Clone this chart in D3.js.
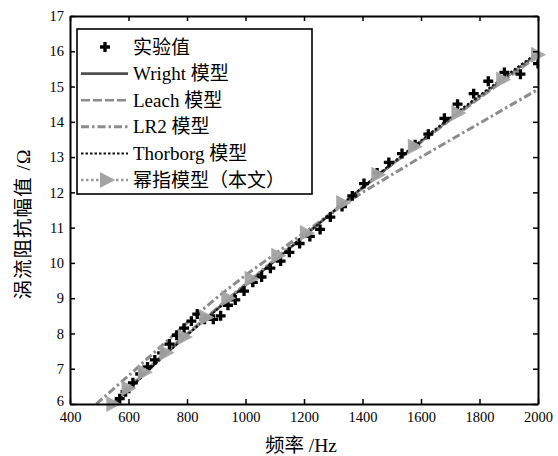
<!DOCTYPE html>
<html lang="zh">
    <head>
        <meta charset="utf-8">
        <title>涡流阻抗幅值</title>
        <script src="https://d3js.org/d3.v7.min.js"></script>
        <style type="text/css">
        body { margin: 0; background: #fff; }
        .tick text, .label, .legtext {
            font-family: "Liberation Serif", "Times New Roman", "Noto Sans CJK SC", serif;
            fill: #000;
        }
        .tick text { font-size: 14.5px; }
        .label { font-size: 19.5px; }
        .legtext { font-size: 19px; }
        </style>
    </head>
    <body>
    <div id="vis"></div>
    <script type="text/javascript">

        // experimental points
        const expFreq = [570, 590, 615, 640, 665, 690, 715, 740, 765, 790, 815, 835, 860, 890, 915, 940, 965, 995,
                         1025, 1055, 1085, 1120, 1150, 1185, 1220, 1255, 1290, 1330, 1365, 1405, 1450, 1490, 1535,
                         1580, 1625, 1680, 1725, 1780, 1830, 1885, 1940, 2000];
        const expVal  = [6.15, 6.35, 6.6, 6.85, 7.05, 7.25, 7.45, 7.7, 7.95, 8.15, 8.35, 8.55, 8.4, 8.4, 8.5, 8.8, 8.95, 9.2,
                         9.45, 9.6, 9.85, 10.05, 10.3, 10.55, 10.75, 10.95, 11.3, 11.6, 11.9, 12.25, 12.55, 12.85, 13.1,
                         13.35, 13.65, 14.1, 14.5, 14.8, 15.15, 15.4, 15.35, 15.65];

        // model curves
        const modelFreq = [550, 600, 700, 800, 900, 1000, 1100, 1200, 1300, 1400, 1500, 1600, 1700, 1800, 1900, 2000];
        const wrightVal   = [6.0, 6.42, 7.22, 7.96, 8.67, 9.37, 10.06, 10.76, 11.45, 12.13, 12.79, 13.44, 14.08, 14.71, 15.32, 15.93];
        const leachVal    = [6.04, 6.47, 7.27, 8.0, 8.7, 9.4, 10.08, 10.77, 11.45, 12.12, 12.78, 13.42, 14.05, 14.67, 15.27, 15.86];
        const thorborgVal = [5.98, 6.4, 7.2, 7.95, 8.66, 9.36, 10.06, 10.76, 11.46, 12.15, 12.82, 13.47, 14.12, 14.75, 15.37, 15.97];

        const lr2Freq = [490, 600, 700, 800, 900, 1000, 1100, 1200, 1300, 1400, 1500, 1600, 1700, 1800, 1900, 2000];
        const lr2Val  = [6.0, 6.8, 7.55, 8.3, 9.0, 9.65, 10.25, 10.85, 11.45, 12.0, 12.5, 13.0, 13.48, 13.96, 14.44, 14.92];

        const powFreq = [548, 600, 656, 730, 793, 867, 941, 1021, 1112, 1210, 1334, 1454, 1579, 1728, 1881, 2000];
        const powVal  = [6.0, 6.45, 6.9, 7.45, 7.9, 8.45, 9.0, 9.55, 10.2, 10.85, 11.7, 12.5, 13.3, 14.25, 15.2, 15.9];

        const xTicks = [400, 600, 800, 1000, 1200, 1400, 1600, 1800, 2000];
        const yTicks = [6, 7, 8, 9, 10, 11, 12, 13, 14, 15, 16, 17];

        const legendNames = ["实验值", "Wright 模型", "Leach 模型", "LR2 模型", "Thorborg 模型", "幂指模型（本文）"];

        const width = 558, height = 456;
        const pLeft = 70, pRight = 538, pTop = 16, pBottom = 404;

        const xScale = d3.scaleLinear().domain([400, 2000]).range([pLeft, pRight]);
        const yScale = d3.scaleLinear().domain([6, 17]).range([pBottom, pTop]);

        const svg = d3.select("#vis")
                      .append("svg")
                      .attr("width", width)
                      .attr("height", height);

        svg.append("clipPath").attr("id", "clip")
           .append("rect")
           .attr("x", pLeft).attr("y", pTop)
           .attr("width", pRight - pLeft).attr("height", pBottom - pTop);

        const plot = svg.append("g").attr("clip-path", "url(#clip)");
        const line = d3.line().x(d => xScale(d[0])).y(d => yScale(d[1]));

        //styles for the model curves
        const styles = {
            wright:   {stroke: "#505050", width: 2.6, dash: null},
            leach:    {stroke: "#8c8c8c", width: 2.6, dash: "9,3"},
            lr2:      {stroke: "#8c8c8c", width: 3, dash: "8,3,2.5,3"},
            thorborg: {stroke: "#111", width: 2, dash: "2.5,2"},
            pow:      {stroke: "#9a9a9a", width: 2.6, dash: "2.5,2.5"}
        };

        function drawCurve(fs, vs, st) {
            plot.append("path")
                .datum(d3.zip(fs, vs))
                .attr("fill", "none")
                .attr("stroke", st.stroke)
                .attr("stroke-width", st.width)
                .attr("stroke-dasharray", st.dash)
                .attr("d", line);
        }

        drawCurve(lr2Freq, lr2Val, styles.lr2);
        drawCurve(modelFreq, leachVal, styles.leach);
        drawCurve(modelFreq, wrightVal, styles.wright);
        drawCurve(powFreq, powVal, styles.pow);
        drawCurve(modelFreq, thorborgVal, styles.thorborg);

        const plus = d3.symbol().type(d3.symbolCross).size(55);
        const tri = "M-7,-8L8,0L-7,8Z";

        //experimental markers
        plot.selectAll(".exp")
            .data(d3.zip(expFreq, expVal))
            .enter()
            .append("path")
            .attr("class", "exp")
            .attr("d", plus)
            .attr("fill", "#000")
            .attr("transform", d => "translate(" + xScale(d[0]) + "," + yScale(d[1]) + ")");

        //triangles of the power model
        svg.selectAll(".tri")
           .data(d3.zip(powFreq, powVal))
           .enter()
           .append("path")
           .attr("class", "tri")
           .attr("d", tri)
           .attr("fill", "#a3a3a3")
           .attr("opacity", 0.95)
           .attr("transform", d => "translate(" + xScale(d[0]) + "," + yScale(d[1]) + ")");

        //axes, ticks pointing inwards
        svg.append("g")
           .attr("transform", "translate(0," + pBottom + ")")
           .call(d3.axisBottom(xScale).tickValues(xTicks).tickFormat(d3.format("d"))
                   .tickSizeInner(-5).tickSizeOuter(0).tickPadding(8));
        svg.append("g")
           .attr("transform", "translate(0," + pTop + ")")
           .call(d3.axisTop(xScale).tickValues(xTicks).tickSizeInner(-5).tickSizeOuter(0).tickFormat(""));
        const yAxis = svg.append("g")
           .attr("transform", "translate(" + pLeft + ",0)")
           .call(d3.axisLeft(yScale).tickValues(yTicks).tickSizeInner(-5).tickSizeOuter(0).tickPadding(6));
        svg.append("g")
           .attr("transform", "translate(" + pRight + ",0)")
           .call(d3.axisRight(yScale).tickValues(yTicks).tickSizeInner(-5).tickSizeOuter(0).tickFormat(""));

        // lift the lowest y label a little so it clears the "400"
        yAxis.selectAll(".tick text").filter(d => d === 6).attr("y", -3);

        svg.selectAll(".domain").attr("stroke", "#000").attr("stroke-width", 2);
        svg.selectAll(".tick line").attr("stroke", "#000").attr("stroke-width", 1.5);
        svg.selectAll(".tick text").attr("font-size", null);

        //legend
        const leg = svg.append("g");
        leg.append("rect")
           .attr("x", 77).attr("y", 29)
           .attr("width", 235).attr("height", 165)
           .attr("fill", "#fff")
           .attr("stroke", "#000")
           .attr("stroke-width", 1.6);

        const legStyles = [null, styles.wright, styles.leach, styles.lr2, styles.thorborg, styles.pow];
        legendNames.forEach((name, i) => {
            const y = 47 + i * 26.6;
            const st = legStyles[i];
            if (st) {
                leg.append("line")
                   .attr("x1", 81).attr("x2", 128)
                   .attr("y1", y).attr("y2", y)
                   .attr("stroke", st.stroke)
                   .attr("stroke-width", st.width)
                   .attr("stroke-dasharray", st.dash);
            } else {
                leg.append("path")
                   .attr("d", plus)
                   .attr("transform", "translate(105," + y + ")");
            }
            if (i === 5) {
                leg.append("path")
                   .attr("d", tri)
                   .attr("fill", "#a3a3a3")
                   .attr("transform", "translate(107," + y + ")");
            }
            leg.append("text")
               .attr("class", "legtext")
               .attr("x", 133)
               .attr("y", y + 6.5)
               .text(name);
        });

        //axis labels
        svg.append("text")
           .attr("class", "label")
           .attr("x", 301)
           .attr("y", 452)
           .attr("text-anchor", "middle")
           .text("频率 /Hz");

        svg.append("text")
           .attr("class", "label")
           .attr("x", -224)
           .attr("y", 30)
           .attr("text-anchor", "middle")
           .attr("letter-spacing", "1px")
           .attr("transform", "rotate(-90)")
           .text("涡流阻抗幅值 /Ω");

    </script>
    </body>
</html>
